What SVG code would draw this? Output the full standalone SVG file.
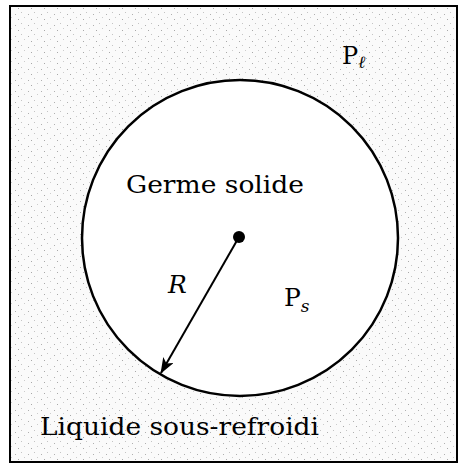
<svg xmlns="http://www.w3.org/2000/svg" width="460" height="465" viewBox="0 0 460 465">
  <defs>
    <pattern id="stipple" width="13" height="11" patternUnits="userSpaceOnUse">
      <rect width="13" height="11" fill="#fafafa"/>
      <rect x="2" y="3" width="1" height="1" fill="#b0b0b0"/>
      <rect x="8" y="1" width="1" height="1" fill="#c4c4c4"/>
      <rect x="5" y="8" width="1" height="1" fill="#a8a8a8"/>
      <rect x="11" y="6" width="1" height="1" fill="#cccccc"/>
    </pattern>
    <marker id="arrow" viewBox="0 0 16 12" refX="15" refY="6" markerWidth="16" markerHeight="12" markerUnits="userSpaceOnUse" orient="auto">
      <path d="M0,0 L16,6 L0,12 L4,6 Z" fill="#000"/>
    </marker>
  </defs>
  <style>
    text { font-family: "DejaVu Serif", "Liberation Serif", serif; fill: #000; }
    .it { font-style: italic; }
  </style>
  <rect width="460" height="465" fill="#ffffff"/>
  <g id="frame">
    <rect x="10" y="6" width="447" height="456" fill="url(#stipple)" stroke="#000" stroke-width="2"/>
  </g>
  <g id="germe">
    <circle cx="240" cy="238" r="158" fill="#ffffff" stroke="#000" stroke-width="2.5"/>
    <text x="126" y="193" font-size="25" textLength="178" lengthAdjust="spacingAndGlyphs">Germe solide</text>
    <circle cx="239" cy="237" r="6" fill="#000"/>
  </g>
  <g id="connectors">
    <line x1="239" y1="237" x2="161" y2="373" stroke="#000" stroke-width="2" marker-end="url(#arrow)"/>
  </g>
  <g id="labels">
    <text class="it" x="168" y="293" font-size="25">R</text>
    <text x="284" y="306" font-size="25">P<tspan class="it" font-size="17" dy="6">s</tspan></text>
    <text x="342" y="64" font-size="24">P<tspan class="it" font-size="17" dy="4">ℓ</tspan></text>
    <text x="40" y="435" font-size="25" textLength="279" lengthAdjust="spacingAndGlyphs">Liquide sous-refroidi</text>
  </g>
</svg>
